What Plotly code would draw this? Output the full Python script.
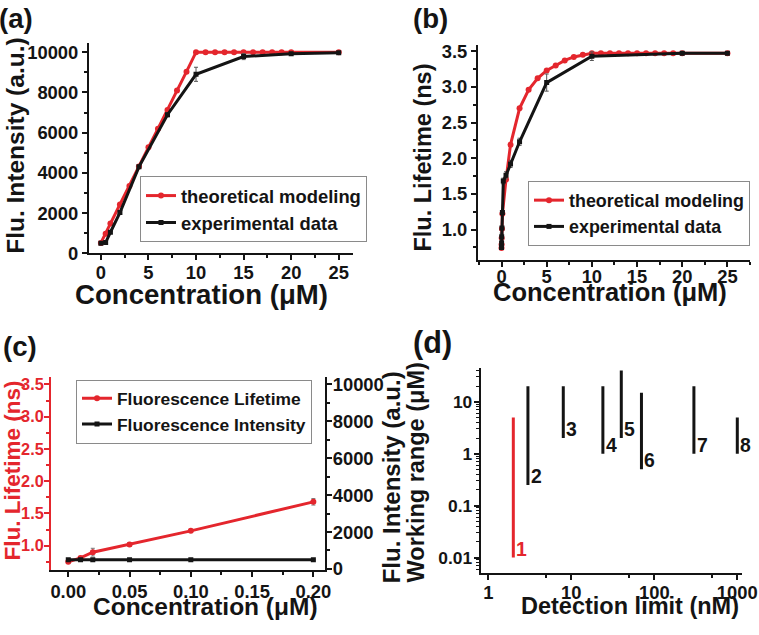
import math
import plotly.graph_objects as go

RED = '#e4262d'
BLK = '#141414'
FONT = 'Liberation Sans'
# Reference picture size; the page is captured 775px wide and shrunk horizontally to 759,
# while the height is kept, so the figure is laid out at 775x635.
RW, RH = 759, 635
W, H = 775, 635
FS = W / RW  # font compensation for the horizontal shrink

# ---------------- data ----------------
# (a) intensity vs concentration
a_theo_x = [0, 0.5, 1, 2, 3, 4, 5, 6, 7, 8, 9, 10, 11, 12, 13, 14, 15, 16, 17, 18, 19, 20, 25]
a_theo_y = [520, 970, 1480, 2430, 3350, 4320, 5270, 6200, 7130, 8100, 9030, 10000, 10000, 10000,
            10000, 10000, 10000, 10000, 10000, 10000, 10000, 10000, 10000]
a_exp_x = [0, 0.5, 1, 2, 4, 7, 10, 15, 20, 25]
a_exp_y = [500, 540, 1050, 2030, 4300, 6890, 8900, 9780, 9920, 9970]
a_exp_err = [30, 30, 60, 60, 80, 100, 350, 150, 60, 50]

# (b) lifetime vs concentration
b_theo_x = [0, 0.01, 0.02, 0.05, 0.1, 0.5, 1, 2, 3, 4, 5, 6, 7, 8, 9, 10,
            11, 12, 13, 14, 15, 16, 17, 18, 19, 20, 25]
b_theo_y = [0.74, 0.79, 0.88, 1.01, 1.22, 1.70, 2.19, 2.70, 2.96, 3.12, 3.23, 3.30, 3.37, 3.42, 3.45, 3.47,
            3.47, 3.47, 3.47, 3.47, 3.47, 3.47, 3.47, 3.47, 3.47, 3.47, 3.47]
b_exp_x = [0, 0.01, 0.02, 0.05, 0.1, 0.2, 0.5, 1, 2, 5, 10, 20, 25]
b_exp_y = [0.75, 0.81, 0.90, 1.02, 1.24, 1.68, 1.76, 1.92, 2.23, 3.06, 3.43, 3.47, 3.47]
b_exp_err = [0.02, 0.02, 0.05, 0.02, 0.02, 0.04, 0.05, 0.05, 0.05, 0.12, 0.06, 0.02, 0.02]

# (c) low concentration range
c_x = [0, 0.01, 0.02, 0.05, 0.1, 0.2]
c_life = [0.75, 0.81, 0.90, 1.02, 1.23, 1.68]
c_life_err = [0.02, 0.02, 0.06, 0.03, 0.02, 0.05]
c_int = [500, 500, 500, 500, 500, 500]
c_int_err = [20, 20, 20, 20, 20, 20]

# (d) comparison of methods
d_labels = ['1', '2', '3', '4', '5', '6', '7', '8']
d_limit = [2, 3, 8, 24, 40, 70, 300, 1000]
d_low = [0.01, 0.25, 2, 1, 2, 0.5, 1, 1]
d_high = [5, 20, 20, 20, 40, 15, 20, 5]

# tick labels
int_ticks = [0, 2000, 4000, 6000, 8000, 10000]
int_ticktext = ['0', '2000', '4000', '6000', '8000', '10000']
conc_ticks = [0, 5, 10, 15, 20, 25]
life_ticks = [1.0, 1.5, 2.0, 2.5, 3.0, 3.5]
life_ticktext = ['1.0', '1.5', '2.0', '2.5', '3.0', '3.5']
low_conc_ticks = [0, 0.05, 0.10, 0.15, 0.20]
low_conc_ticktext = ['0.00', '0.05', '0.10', '0.15', '0.20']
det_ticks = [1, 10, 100, 1000]
det_ticktext = ['1', '10', '100', '1000']
range_ticks = [0.01, 0.1, 1, 10]
range_ticktext = ['0.01', '0.1', '1', '10']

# ---------------- helpers ----------------
def px_x(p):
    return p / RW

def px_y(p):
    return 1 - p / RH

def f(size):
    return round(size * FS, 1)

def axis_style(color=BLK, fsize=18, **kw):
    d = dict(showline=True, linecolor=color, linewidth=2, ticks='outside', ticklen=5,
             tickwidth=2, tickcolor=color, showgrid=False, zeroline=False,
             tickfont=dict(family=FONT, size=f(fsize), color=color, weight='bold'))
    d.update(kw)
    return d

def minor(color=BLK, **kw):
    d = dict(ticks='outside', ticklen=3, tickwidth=1.5, tickcolor=color)
    d.update(kw)
    return d

fig = go.Figure()

# (a)
fig.add_trace(go.Scatter(x=a_theo_x, y=a_theo_y, xaxis='x', yaxis='y', mode='lines+markers',
                         name='theoretical modeling', legend='legend',
                         line=dict(color=RED, width=3), marker=dict(color=RED, size=6, symbol='circle')))
fig.add_trace(go.Scatter(x=a_exp_x, y=a_exp_y, xaxis='x', yaxis='y', mode='lines+markers',
                         name='experimental data', legend='legend',
                         error_y=dict(type='data', array=a_exp_err, color='#555', thickness=1, width=2),
                         line=dict(color=BLK, width=3), marker=dict(color=BLK, size=5, symbol='square')))
# (b)
fig.add_trace(go.Scatter(x=b_theo_x, y=b_theo_y, xaxis='x2', yaxis='y2', mode='lines+markers',
                         name='theoretical modeling', legend='legend2',
                         line=dict(color=RED, width=3), marker=dict(color=RED, size=6, symbol='circle')))
fig.add_trace(go.Scatter(x=b_exp_x, y=b_exp_y, xaxis='x2', yaxis='y2', mode='lines+markers',
                         name='experimental data', legend='legend2',
                         error_y=dict(type='data', array=b_exp_err, color='#555', thickness=1, width=2),
                         line=dict(color=BLK, width=3), marker=dict(color=BLK, size=5, symbol='square')))
# (c)
fig.add_trace(go.Scatter(x=c_x, y=c_int, xaxis='x3', yaxis='y4', mode='lines+markers',
                         name='Fluorescence Intensity', legend='legend3', legendrank=2,
                         error_y=dict(type='data', array=c_int_err, color='#555', thickness=1, width=2),
                         line=dict(color=BLK, width=3), marker=dict(color=BLK, size=5, symbol='square')))
fig.add_trace(go.Scatter(x=c_x, y=c_life, xaxis='x3', yaxis='y3', mode='lines+markers',
                         name='Fluorescence Lifetime', legend='legend3', legendrank=1,
                         error_y=dict(type='data', array=c_life_err, color='#777', thickness=1, width=2),
                         line=dict(color=RED, width=3), marker=dict(color=RED, size=6, symbol='circle')))
# (d)
for lab, xv, lo, hi in zip(d_labels, d_limit, d_low, d_high):
    col = RED if lab == '1' else BLK
    fig.add_trace(go.Scatter(x=[xv, xv], y=[lo, hi], xaxis='x4', yaxis='y5', mode='lines',
                             showlegend=False, line=dict(color=col, width=3)))
    # annotations on log axes take log10 coordinates
    fig.add_annotation(x=math.log10(xv), y=math.log10(lo), xref='x4', yref='y5', text=lab, showarrow=False,
                       xanchor='left', yanchor='bottom', xshift=1, yshift=-4,
                       font=dict(family=FONT, size=f(19), color=col, weight='bold'))

# ---------------- layout ----------------
lay = dict(width=W, height=H, margin=dict(l=0, r=0, t=0, b=0),
           paper_bgcolor='white', plot_bgcolor='white',
           font=dict(family=FONT, color=BLK, weight='bold'))

# (a) axes
lay['xaxis'] = axis_style(domain=[px_x(89), px_x(353)], anchor='y', range=[-1.25, 26.5],
                          tickvals=conc_ticks, ticklabelstandoff=-3, minor=minor(dtick=2.5, tick0=0))
lay['yaxis'] = axis_style(domain=[px_y(255), px_y(40)], anchor='x', range=[0, 10450],
                          tickvals=int_ticks, ticktext=int_ticktext, minor=minor(dtick=1000, tick0=0))
# (b) axes
lay['xaxis2'] = axis_style(domain=[px_x(478), px_x(750)], anchor='y2', range=[-2.6, 27.5],
                           tickvals=conc_ticks, ticklabelstandoff=-6, minor=minor(dtick=2.5, tick0=0))
lay['yaxis2'] = axis_style(domain=[px_y(262), px_y(41.7)], anchor='x2', range=[0.57, 3.59],
                           tickvals=life_ticks, ticktext=life_ticktext, minor=minor(dtick=0.25, tick0=0))
# (c) axes
lay['xaxis3'] = axis_style(domain=[px_x(51), px_x(325)], anchor='y3', range=[-0.0141, 0.2095],
                           tickvals=low_conc_ticks, ticktext=low_conc_ticktext, ticklabelstandoff=-1,
                           minor=minor(dtick=0.025, tick0=0))
lay['yaxis3'] = axis_style(color=RED, fsize=16, domain=[px_y(579), px_y(381.7)], anchor='x3', range=[0.62, 3.61],
                           tickvals=life_ticks, ticktext=life_ticktext, ticklabelstandoff=-3,
                           minor=minor(RED, dtick=0.25, tick0=0))
lay['yaxis4'] = axis_style(domain=[px_y(579), px_y(381.7)], anchor='x3', overlaying='y3', side='right',
                           range=[-70, 10390], tickvals=int_ticks, ticktext=int_ticktext, ticklabelstandoff=-3,
                           minor=minor(dtick=1000, tick0=0))
# (d) axes
det_minor = [5 * 10 ** e for e in range(0, 3)]
rng_minor = [m * 10.0 ** e for e in range(-3, 2) for m in range(2, 10)]
lay['xaxis4'] = axis_style(fsize=18, domain=[px_x(480.7), px_x(741.7)], anchor='y5', type='log',
                           range=[-0.092, 3.053], tickvals=det_ticks, ticktext=det_ticktext,
                           ticklabelstandoff=-3, minor=minor(tickvals=det_minor))
lay['yaxis5'] = axis_style(fsize=17, domain=[px_y(581.7), px_y(371.7)], anchor='x4', type='log',
                           range=[-2.296, 1.66], tickvals=range_ticks, ticktext=range_ticktext,
                           ticklabelstandoff=-2, minor=minor(tickvals=rng_minor, ticklen=2.5, tickwidth=1))

leg_common = dict(bgcolor='white', bordercolor='#8a8a8a', borderwidth=1,
                  xanchor='left', yanchor='top', itemwidth=30, tracegroupgap=0)
lay['legend'] = dict(x=px_x(140), y=px_y(176), font=dict(family=FONT, size=f(18), color=BLK, weight='bold'),
                     **leg_common)
lay['legend2'] = dict(x=px_x(528), y=px_y(181), font=dict(family=FONT, size=f(17.5), color=BLK, weight='bold'),
                      **leg_common)
lay['legend3'] = dict(x=px_x(76), y=px_y(384), traceorder='normal',
                      font=dict(family=FONT, size=f(17), color=BLK, weight='bold'), **leg_common)

fig.update_layout(**lay)

# ---------------- titles (annotations) ----------------
def ann(text, x, y, size, angle=0, color=BLK):
    fig.add_annotation(x=px_x(x), y=px_y(y), xref='paper', yref='paper', text=text, showarrow=False,
                       textangle=angle, xanchor='center', yanchor='middle',
                       font=dict(family=FONT, size=f(size), color=color, weight='bold'))

ann('(a)', 16, 15, 27)
ann('(b)', 430, 15, 27)
ann('(c)', 20, 350, 27)
ann('(d)', 432, 346, 30)

ann('Flu. Intensity (a.u.)', 16, 145, 24, -90)
ann('Concentration (μM)', 202, 297, 27)
ann('Flu. Lifetime (ns)', 423, 157, 23, -90)
ann('Concentration (μM)', 610, 295, 25)
ann('Flu. Lifetime (ns)', 12, 477, 22, -90, RED)
ann('Concentration (μM)', 205, 616, 24)
ann('Flu. Intensity (a.u.)', 391, 484, 23.5, -90)
ann('Working range (μM)', 416, 479, 23, -90)
ann('Detection limit (nM)', 630, 616, 23)

fig.write_html('out.html', config={'displayModeBar': False},
               post_script="document.body.style.margin='0';document.body.style.padding='0';"
                           "document.documentElement.style.overflow='hidden';")
